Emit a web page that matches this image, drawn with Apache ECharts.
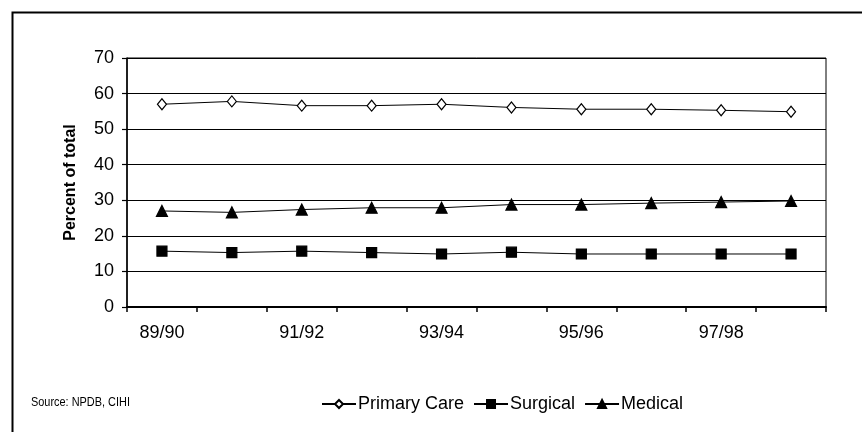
<!DOCTYPE html>
<html>
<head>
<meta charset="utf-8">
<script src="https://cdn.jsdelivr.net/npm/echarts@6/dist/echarts.min.js"></script>
<style>
  html, body { margin: 0; padding: 0; background: #fff; }
  #chart { width: 862px; height: 432px; }
</style>
</head>
<body>
<div id="chart"></div>
<script>
// Fiscal years on the category axis
const years = ['89/90', '90/91', '91/92', '92/93', '93/94', '94/95', '95/96', '96/97', '97/98', '98/99'];

// Share of total (%) by specialty group
const primaryCare = [57.0, 57.8, 56.6, 56.6, 57.0, 56.1, 55.6, 55.6, 55.3, 54.9];
const surgical    = [15.7, 15.3, 15.7, 15.3, 14.9, 15.4, 14.9, 14.9, 14.9, 14.9];
const medical     = [27.0, 26.6, 27.4, 27.9, 27.9, 28.8, 28.8, 29.2, 29.5, 29.8];

const yTicks = { min: 0, max: 70, step: 10 };

const FONT = '"Liberation Sans", Arial, sans-serif';

const chart = echarts.init(document.getElementById('chart'), null, { renderer: 'canvas' });

function lineSeries(name, data, symbol, size, fill) {
  return {
    name: name,
    type: 'line',
    data: data,
    symbol: symbol,
    symbolSize: size,
    showAllSymbol: true,
    lineStyle: { color: '#000', width: 1 },
    itemStyle: { color: fill, borderColor: '#000', borderWidth: 1.2 },
    emphasis: { disabled: true },
    animation: false
  };
}

chart.setOption({
  animation: false,
  backgroundColor: '#fff',
  textStyle: { fontFamily: FONT, color: '#000' },
  grid: { left: 127, right: 36, top: 58, bottom: 125, show: true, borderColor: '#000', borderWidth: 1 },
  xAxis: {
    type: 'category',
    data: years,
    boundaryGap: true,
    axisLine: { lineStyle: { color: '#000', width: 2 } },
    axisTick: { show: true, interval: 0, length: 5, lineStyle: { color: '#000', width: 1.5 } },
    axisLabel: { interval: 1, color: '#000', fontSize: 18, fontFamily: FONT, margin: 17 },
    splitLine: { show: false }
  },
  yAxis: {
    type: 'value',
    min: yTicks.min,
    max: yTicks.max,
    interval: yTicks.step,
    name: 'Percent of total',
    nameLocation: 'middle',
    nameRotate: 90,
    nameGap: 48,
    nameTextStyle: { fontSize: 16, fontWeight: 'bold', color: '#000', fontFamily: FONT },
    axisLine: { show: true, lineStyle: { color: '#000', width: 1.5 } },
    axisTick: { show: true, length: 5, lineStyle: { color: '#000', width: 1.2 } },
    axisLabel: { color: '#000', fontSize: 18, fontFamily: FONT, margin: 13 },
    splitLine: { show: true, lineStyle: { color: '#000', width: 1.2 } }
  },
  legend: {
    left: 316,
    top: 390,
    itemWidth: 34,
    itemHeight: 10,
    itemGap: 9,
    textStyle: { fontSize: 18, color: '#000', fontFamily: FONT, padding: [0, 0, 0, -3] },
    data: ['Primary Care', 'Surgical', 'Medical']
  },
  graphic: [
    {
      type: 'rect',
      left: 10, top: 10,
      shape: { width: 900, height: 500 },
      style: { fill: 'none', stroke: '#000', lineWidth: 2 },
      silent: true
    },
    {
      // condensed source note
      type: 'text',
      x: 31, y: 396,
      scaleX: 0.84,
      style: { text: 'Source: NPDB, CIHI', font: '13px ' + FONT, fill: '#000' },
      silent: true
    }
  ],
  series: [
    lineSeries('Primary Care', primaryCare, 'diamond', [9, 11], '#fff'),
    lineSeries('Surgical', surgical, 'rect', 10, '#000'),
    lineSeries('Medical', medical, 'triangle', 11, '#000')
  ]
});
</script>
</body>
</html>
